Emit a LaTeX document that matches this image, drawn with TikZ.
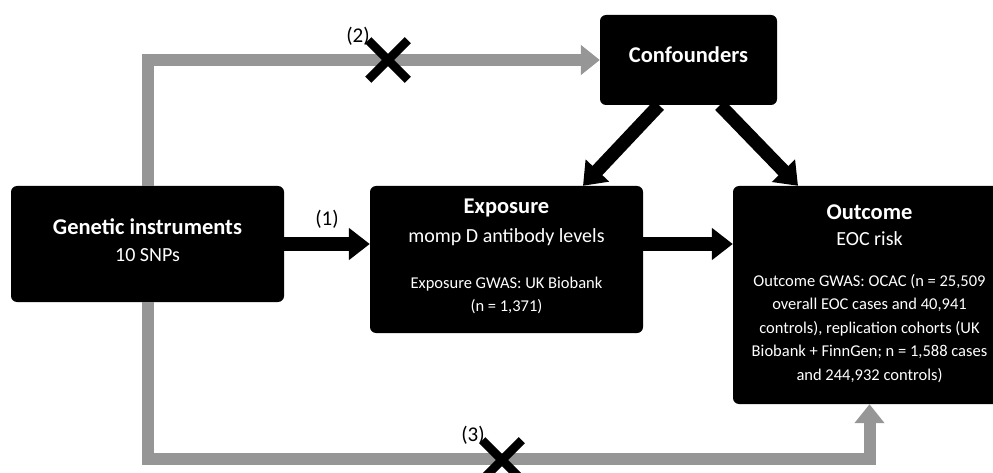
\documentclass[tikz,border=0pt]{standalone}
\usepackage{fontspec}
\setmainfont{Carlito}
\usepackage{tikz}
\usetikzlibrary{arrows.meta,shapes.misc}
\definecolor{pathgray}{RGB}{150,150,150}

\begin{document}
\begin{tikzpicture}[x=1pt,y=-1pt,
boxnode/.style={fill=black,rounded corners=6pt,inner sep=0pt,minimum width=273pt},
headtext/.style={text=white,font=\fontsize{22.5}{27}\selectfont\bfseries},
subtext/.style={text=white,font=\fontsize{20}{23}\selectfont},
smalltext/.style={text=white,align=center,inner sep=0pt,font=\fontsize{16.5}{23.5}\selectfont},
myarrow/.style={-{Triangle[length=21pt,width=31pt]},line width=13.5pt},
grayarrow/.style={-{Triangle[length=19pt,width=29pt]},line width=12pt,draw=pathgray},
crossmark/.style={cross out,draw=black,line width=8.5pt,minimum size=31pt,inner sep=0pt},
pathlabel/.style={font=\fontsize{21}{24}\selectfont}]
\useasboundingbox (0,0) rectangle (993,473);
\clip (0,0) rectangle (993,473);
\node[boxnode,minimum height=116pt] (gen) at (147.5,244) {};
\node[boxnode,minimum height=147pt] (expo) at (506.5,259.5) {};
\node[boxnode,minimum height=218pt] (outc) at (869.5,295) {};
\node[boxnode,minimum width=177pt,minimum height=90pt] (conf) at (688.5,60) {};
\node[headtext] (conftitle) at (688.5,55) {Confounders};
\node[headtext] (gentitle) at (147.5,227) {Genetic instruments};
\node[subtext] (gensub) at (147.5,255) {10 SNPs};
\node[headtext] (expotitle) at (506.5,208) {Exposure};
\node[subtext] (exposub) at (506.5,237) {momp D antibody levels};
\node[smalltext] (expogwas) at (506.5,295.5) {Exposure GWAS: UK Biobank\\(n = 1,371)};
\node[headtext] (outctitle) at (869.5,212) {Outcome};
\node[subtext] (outcsub) at (869.5,239) {EOC risk};
\node[smalltext] (outcgwas) at (869.5,328.5) {Outcome GWAS: OCAC (n = 25,509\\overall EOC cases and 40,941\\controls), replication cohorts (UK\\Biobank + FinnGen; n = 1,588 cases\\and 244,932 controls)};
\draw[myarrow] (gen.east) -- (expo.west |- gen.east);
\draw[myarrow] (expo.east |- gen.east) -- (outc.west |- gen.east);
\draw[myarrow] ([xshift=-29.5pt]conf.south) -- ([xshift=76.5pt]expo.north);
\draw[myarrow] ([xshift=31.5pt]conf.south) -- ([xshift=-71.5pt]outc.north);
\draw[grayarrow] (gen.north) |- (conf.west);
\draw[grayarrow] (gen.south) -- ++(0,157) -| (outc.south);
\node[crossmark] (cut2) at (388,60) {};
\node[crossmark] (cut3) at (502,460) {};
\node[pathlabel] (lab1) at (327,219) {(1)};
\node[pathlabel] (lab2) at (358,36) {(2)};
\node[pathlabel] (lab3) at (473,435) {(3)};
\end{tikzpicture}
\end{document}
